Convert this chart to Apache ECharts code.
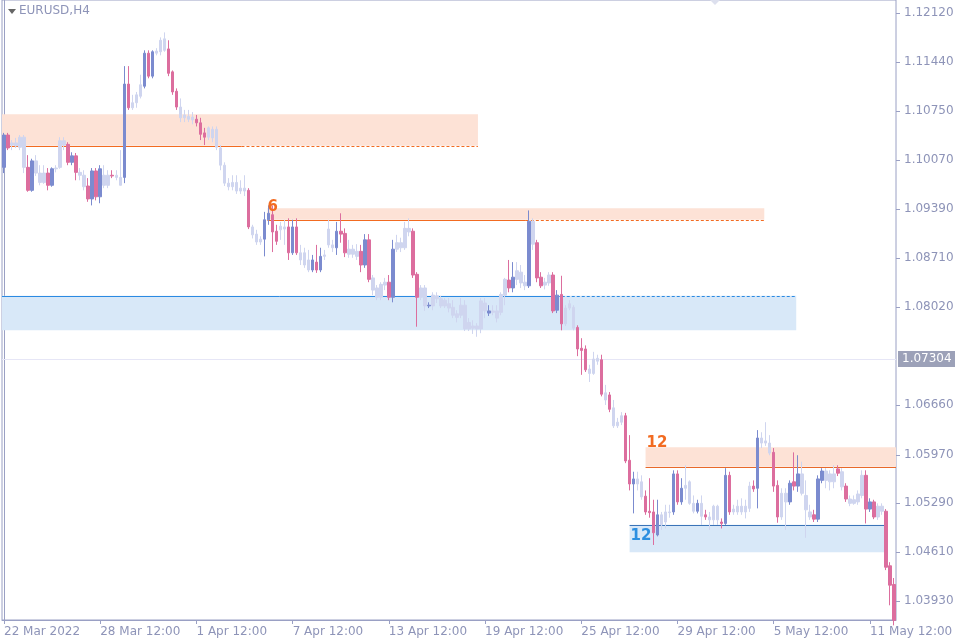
<!DOCTYPE html>
<html><head><meta charset="utf-8">
<script src="https://cdn.jsdelivr.net/npm/echarts@6/dist/echarts.min.js"></script>
<style>html,body{margin:0;padding:0;background:#fff}#c{width:960px;height:640px}</style>
</head><body><div id="c"></div>
<script>
// rows: [open, close, high, low, strong(1)/faint(0)]
const candles = [
[1.0997,1.1042,1.1045,1.0989,1],[1.1042,1.1024,1.1045,1.1021,1],[1.1028,1.1031,1.1035,1.1021,0],[1.1027,1.1031,1.1038,1.1024,0],
[1.1025,1.1039,1.1042,1.1021,0],[1.1039,1.0997,1.1042,1.0989,0],[1.0997,1.0965,1.1014,1.0963,1],[1.0965,1.1006,1.1009,1.0963,1],
[1.1006,1.0989,1.1014,1.0985,0],[1.0989,1.0976,1.1000,1.0972,0],[1.0976,1.0989,1.1000,1.0974,0],[1.0989,1.0972,1.0996,1.0965,1],
[1.0972,1.0995,1.0997,1.0970,1],[1.0995,1.0996,1.1000,1.0990,0],[1.0997,1.1034,1.1039,1.0995,0],[1.1034,1.1028,1.1039,1.1021,0],
[1.1029,1.1004,1.1032,1.1000,1],[1.1004,1.1013,1.1018,1.1000,1],[1.1013,1.0990,1.1017,1.0979,1],[1.0990,1.0986,1.0996,1.0979,0],
[1.0986,1.0970,1.0993,1.0965,0],[1.0971,1.0953,1.0982,1.0949,1],[1.0953,1.0992,1.0996,1.0944,1],[1.0992,1.0956,1.0996,1.0951,1],
[1.0956,1.0995,1.1000,1.0947,1],[1.0986,1.0972,1.1000,1.0968,0],[1.0972,1.0986,1.0993,1.0968,0],[1.0986,1.0985,1.0993,1.0982,1],
[1.0983,1.0986,1.0993,1.0979,0],[1.0972,1.0983,1.1021,1.0972,0],[1.0983,1.1113,1.1138,1.0975,1],[1.1113,1.1080,1.1138,1.1077,1],
[1.1080,1.1087,1.1098,1.1077,0],[1.1087,1.1098,1.1102,1.1080,0],[1.1096,1.1112,1.1126,1.1093,0],[1.1110,1.1156,1.1160,1.1107,1],
[1.1156,1.1124,1.1160,1.1121,1],[1.1124,1.1158,1.1160,1.1121,1],[1.1156,1.1159,1.1163,1.1153,0],[1.1158,1.1174,1.1178,1.1153,0],
[1.1160,1.1176,1.1185,1.1158,0],[1.1162,1.1128,1.1174,1.1124,1],[1.1130,1.1102,1.1132,1.1098,1],[1.1103,1.1081,1.1107,1.1077,1],
[1.1081,1.1066,1.1093,1.1060,0],[1.1070,1.1066,1.1077,1.1060,0],[1.1068,1.1064,1.1077,1.1060,0],[1.1067,1.1063,1.1074,1.1057,0],
[1.1064,1.1059,1.1070,1.1054,1],[1.1059,1.1043,1.1066,1.1035,1],[1.1045,1.1039,1.1052,1.1028,1],[1.1039,1.1052,1.1054,1.1035,0],
[1.1038,1.1050,1.1054,1.1032,0],[1.1050,1.1025,1.1054,1.1021,0],[1.1024,1.1000,1.1028,1.0993,0],[1.1000,1.0975,1.1004,1.0971,0],
[1.0975,1.0970,1.0982,1.0965,0],[1.0970,1.0976,1.0986,1.0965,0],[1.0976,1.0964,1.0986,1.0960,0],[1.0964,1.0968,1.0979,1.0960,0],
[1.0968,1.0964,1.0986,1.0957,0],[1.0965,1.0914,1.0968,1.0911,1],[1.0914,1.0903,1.0917,1.0898,0],[1.0904,1.0893,1.0910,1.0889,0],
[1.0897,1.0893,1.0901,1.0889,0],[1.0897,1.0924,1.0935,1.0873,1],[1.0924,1.0933,1.0944,1.0917,1],[1.0931,1.0907,1.0944,1.0879,1],
[1.0908,1.0894,1.0917,1.0889,1],[1.0910,1.0915,1.0921,1.0896,0],[1.0914,1.0911,1.0924,1.0889,0],[1.0914,1.0878,1.0926,1.0868,1],
[1.0878,1.0914,1.0924,1.0875,1],[1.0914,1.0878,1.0926,1.0875,1],[1.0878,1.0868,1.0889,1.0861,0],[1.0878,1.0861,1.0885,1.0857,0],
[1.0868,1.0854,1.0882,1.0851,0],[1.0854,1.0868,1.0875,1.0851,1],[1.0865,1.0854,1.0889,1.0850,1],[1.0854,1.0873,1.0885,1.0851,1],
[1.0873,1.0875,1.0882,1.0868,0],[1.0889,1.0911,1.0924,1.0885,0],[1.0889,1.0885,1.0896,1.0879,0],[1.0885,1.0908,1.0921,1.0875,1],
[1.0908,1.0904,1.0933,1.0892,1],[1.0905,1.0878,1.0912,1.0872,1],[1.0883,1.0876,1.0896,1.0871,0],[1.0883,1.0876,1.0889,1.0871,0],
[1.0880,1.0873,1.0890,1.0868,0],[1.0880,1.0861,1.0889,1.0851,1],[1.0861,1.0896,1.0904,1.0857,1],[1.0896,1.0841,1.0904,1.0837,1],
[1.0843,1.0826,1.0847,1.0819,0],[1.0829,1.0816,1.0833,1.0812,0],[1.0816,1.0834,1.0837,1.0812,0],[1.0833,1.0837,1.0843,1.0826,0],
[1.0837,1.0816,1.0847,1.0812,1],[1.0816,1.0883,1.0896,1.0809,1],[1.0883,1.0892,1.0903,1.0879,0],[1.0885,1.0892,1.0899,1.0879,0],
[1.0885,1.0912,1.0921,1.0882,0],[1.0907,1.0912,1.0926,1.0901,0],[1.0908,1.0847,1.0912,1.0843,1],[1.0848,1.0816,1.0851,1.0775,1],
[1.0816,1.0829,1.0833,1.0812,0],[1.0829,1.0804,1.0833,1.0797,0],[1.0804,1.0805,1.0809,1.0801,1],[1.0804,1.0819,1.0823,1.0798,0],
[1.0818,1.0814,1.0823,1.0808,0],[1.0814,1.0804,1.0818,1.0801,0],[1.0812,1.0804,1.0815,1.0801,0],[1.0807,1.0801,1.0815,1.0795,0],
[1.0802,1.0791,1.0812,1.0787,0],[1.0793,1.0788,1.0798,1.0781,0],[1.0791,1.0805,1.0815,1.0787,0],[1.0805,1.0772,1.0812,1.0769,0],
[1.0781,1.0772,1.0787,1.0769,0],[1.0773,1.0776,1.0784,1.0765,0],[1.0776,1.0772,1.0780,1.0761,0],[1.0772,1.0811,1.0815,1.0766,0],
[1.0808,1.0797,1.0815,1.0787,0],[1.0794,1.0797,1.0805,1.0790,1],[1.0797,1.0795,1.0805,1.0791,0],[1.0797,1.0787,1.0805,1.0781,0],
[1.0795,1.0820,1.0823,1.0791,0],[1.0819,1.0841,1.0843,1.0805,0],[1.0840,1.0829,1.0868,1.0823,1],[1.0829,1.0844,1.0865,1.0823,1],
[1.0841,1.0853,1.0865,1.0833,0],[1.0851,1.0836,1.0861,1.0829,0],[1.0837,1.0832,1.0847,1.0826,0],[1.0832,1.0922,1.0937,1.0829,1],
[1.0922,1.0890,1.0926,1.0882,0],[1.0892,1.0843,1.0896,1.0837,1],[1.0844,1.0832,1.0851,1.0829,1],[1.0837,1.0833,1.0843,1.0827,0],
[1.0836,1.0847,1.0851,1.0832,0],[1.0847,1.0797,1.0851,1.0794,1],[1.0798,1.0819,1.0826,1.0794,1],[1.0820,1.0779,1.0846,1.0770,1],
[1.0779,1.0801,1.0805,1.0776,0],[1.0801,1.0807,1.0812,1.0798,0],[1.0802,1.0773,1.0805,1.0770,0],[1.0774,1.0744,1.0777,1.0734,1],
[1.0745,1.0742,1.0759,1.0708,1],[1.0744,1.0715,1.0749,1.0712,1],[1.0716,1.0710,1.0722,1.0698,0],[1.0710,1.0730,1.0740,1.0708,0],
[1.0727,1.0731,1.0736,1.0722,0],[1.0729,1.0681,1.0736,1.0678,1],[1.0683,1.0673,1.0694,1.0666,0],[1.0680,1.0660,1.0684,1.0656,1],
[1.0662,1.0637,1.0673,1.0634,0],[1.0637,1.0642,1.0648,1.0634,0],[1.0642,1.0651,1.0656,1.0638,0],[1.0651,1.0588,1.0655,1.0585,1],
[1.0589,1.0556,1.0624,1.0547,1],[1.0556,1.0563,1.0573,1.0515,1],[1.0556,1.0563,1.0573,1.0547,0],[1.0559,1.0538,1.0568,1.0534,0],
[1.0539,1.0517,1.0547,1.0513,1],[1.0518,1.0516,1.0564,1.0509,1],[1.0517,1.0488,1.0534,1.0471,1],[1.0485,1.0513,1.0534,1.0483,1],
[1.0499,1.0513,1.0517,1.0492,0],[1.0503,1.0517,1.0527,1.0494,0],[1.0516,1.0517,1.0527,1.0509,0],[1.0517,1.0570,1.0575,1.0513,1],
[1.0570,1.0531,1.0575,1.0527,1],[1.0531,1.0550,1.0564,1.0527,1],[1.0550,1.0554,1.0582,1.0534,0],[1.0529,1.0559,1.0561,1.0527,0],
[1.0529,1.0518,1.0540,1.0515,0],[1.0518,1.0529,1.0534,1.0515,1],[1.0529,1.0511,1.0540,1.0499,0],[1.0513,1.0510,1.0520,1.0506,1],
[1.0510,1.0506,1.0517,1.0492,0],[1.0506,1.0525,1.0527,1.0499,0],[1.0525,1.0506,1.0527,1.0499,0],[1.0503,1.0501,1.0508,1.0494,1],
[1.0501,1.0568,1.0578,1.0499,1],[1.0568,1.0517,1.0573,1.0513,1],[1.0517,1.0521,1.0527,1.0513,0],[1.0517,1.0525,1.0534,1.0513,0],
[1.0525,1.0517,1.0536,1.0513,0],[1.0517,1.0525,1.0534,1.0508,0],[1.0522,1.0553,1.0559,1.0517,0],[1.0553,1.0549,1.0561,1.0545,1],
[1.0550,1.0620,1.0631,1.0522,1],[1.0620,1.0613,1.0628,1.0606,0],[1.0616,1.0613,1.0642,1.0609,0],[1.0613,1.0599,1.0624,1.0596,0],
[1.0600,1.0553,1.0606,1.0545,1],[1.0554,1.0510,1.0561,1.0502,1],[1.0510,1.0543,1.0550,1.0506,0],[1.0543,1.0531,1.0550,1.0492,0],
[1.0531,1.0557,1.0561,1.0527,1],[1.0559,1.0553,1.0600,1.0547,1],[1.0553,1.0570,1.0596,1.0545,1],[1.0543,1.0570,1.0587,1.0540,0],
[1.0540,1.0520,1.0561,1.0481,0],[1.0517,1.0510,1.0527,1.0506,0],[1.0513,1.0507,1.0520,1.0503,1],[1.0507,1.0563,1.0568,1.0503,1],
[1.0561,1.0574,1.0578,1.0557,1],[1.0574,1.0561,1.0578,1.0550,0],[1.0559,1.0570,1.0575,1.0547,0],[1.0570,1.0559,1.0582,1.0550,0],
[1.0577,1.0571,1.0582,1.0567,1],[1.0573,1.0552,1.0578,1.0547,0],[1.0553,1.0535,1.0557,1.0531,1],[1.0535,1.0529,1.0540,1.0525,0],
[1.0534,1.0529,1.0540,1.0527,0],[1.0531,1.0542,1.0547,1.0527,0],[1.0540,1.0568,1.0575,1.0536,0],[1.0568,1.0521,1.0575,1.0501,1],
[1.0521,1.0531,1.0536,1.0517,1],[1.0531,1.0510,1.0534,1.0507,1],[1.0510,1.0525,1.0529,1.0506,0],[1.0525,1.0518,1.0529,1.0513,0],
[1.0518,1.0440,1.0521,1.0436,1],[1.0442,1.0415,1.0447,1.0387,1],[1.0416,1.0366,1.0425,1.0359,1]
];
const tickIdx = [0,24,48,72,96,120,144,168,192,216];
const tickLabels = ['22 Mar 2022','28 Mar 12:00','1 Apr 12:00','7 Apr 12:00','13 Apr 12:00','19 Apr 12:00','25 Apr 12:00','29 Apr 12:00','5 May 12:00','11 May 12:00'];
const priceTicks = [1.03930,1.04610,1.05290,1.05970,1.06660,1.08020,1.08710,1.09390,1.10070,1.10750,1.11440,1.12120];
const currentPrice = 1.07304;
// zones: [fromIdx, toIdx, low, high, kind]
const zones = [
 [-0.5,118.75,1.1027,1.1071,'o'],
 [66,190.5,1.0924,1.0940,'o'],
 [-0.5,198.5,1.0770,1.0818,'b'],
 [160.75,223.5,1.0580,1.0607,'o'],
 [156.75,220.75,1.0461,1.0499,'b']
];
// levels: [fromIdx, toIdx, price, colour, dashed]
const levels = [
 [-0.5,59.5,1.1027,'#f26b21',0],[59.5,118.75,1.1027,'#f26b21',1],
 [66,130.75,1.0924,'#f26b21',0],[130.75,190.5,1.0924,'#f26b21',1],
 [-0.5,138.5,1.0818,'#2b8ae2',0],[138.5,198.5,1.0818,'#2b8ae2',1],
 [160.75,223.5,1.0580,'#e8692a',0],
 [156.75,220.75,1.0499,'#3b74b8',0],
 [-0.5,223.5,currentPrice,'#e6e6f6',0]
];
// zone labels: [idx, price, text, colour]
const zoneLabels = [[66,1.0941,'6','#f26b21'],[161,1.0613,'12','#f26b21'],[157,1.0483,'12','#2d8fe0']];

const cats = candles.map((_, i) => String(i));
const BLUE='#7b8bcf', PINK='#dc6e9e', FAINT='#cfd5ef';
const cdata = candles.map(r => {
  let col = r[4] ? (r[1] >= r[0] ? BLUE : PINK) : FAINT;
  return {value:[r[0], r[1], r[3], r[2]], itemStyle:{color:col,color0:col,borderColor:col,borderColor0:col,borderWidth:1}};
});
const chart = echarts.init(document.getElementById('c'));
const lbl = {color:'#8e94b8', fontSize:12, fontFamily:'DejaVu Sans'};
chart.setOption({
  animation:false,
  grid:{left:2,right:64,top:0,bottom:20,show:true,borderColor:'#9aa0c4',borderWidth:1},
  xAxis:[{type:'category',data:cats,boundaryGap:true,
    axisLine:{lineStyle:{color:'#9aa0c4'}},
    axisTick:{show:true,alignWithLabel:true,interval:(i)=>tickIdx.includes(i),length:4,lineStyle:{color:'#9aa0c4'}},
    axisLabel:Object.assign({interval:(i)=>tickIdx.includes(i),align:'left',margin:6,
      formatter:(v,i)=>{const k=tickIdx.indexOf(+v);return k>=0?tickLabels[k]:'';}},lbl),
    splitLine:{show:false}},
   {type:'value',min:-0.5,max:223.5,show:false}],
  yAxis:{type:'value',position:'right',min:1.03665,max:1.12301,scale:true,
    axisLine:{show:true,lineStyle:{color:'#9aa0c4'}},
    axisTick:{show:false},
    axisLabel:Object.assign({customValues:priceTicks,formatter:v=>v.toFixed(5),margin:8},lbl),
    splitLine:{show:false}},
  graphic:[
    {type:'polygon',shape:{points:[[8,9],[16,9],[12,14]]},style:{fill:'#666'}},
    {type:'text',left:19,top:5,style:{text:'EURUSD,H4',fill:'#8e94b8',font:'12px DejaVu Sans'}},
    {type:'polygon',shape:{points:[[710,0],[720,0],[715,5]]},style:{fill:'#dde0ee'}}
  ],
  series:[
    {type:'custom',xAxisIndex:1,data:zones.map(z=>[z[0],z[1],z[2],z[3]]),silent:true,z:1,
     renderItem:(p,api)=>{const a=api.coord([api.value(0),api.value(3)]),b=api.coord([api.value(1),api.value(2)]);
       return {type:'rect',shape:{x:a[0],y:a[1],width:b[0]-a[0],height:b[1]-a[1]},style:{fill:zones[p.dataIndex][4]==='o'?'#fde2d6':'#d8e8f8'}};}},
    {type:'custom',xAxisIndex:1,data:levels.map(l=>[l[0],l[1],l[2]]),silent:true,z:3,
     renderItem:(p,api)=>{const a=api.coord([api.value(0),api.value(2)]),b=api.coord([api.value(1),api.value(2)]);const L=levels[p.dataIndex];
       return {type:'line',shape:{x1:a[0],y1:Math.round(a[1])+0.5,x2:b[0],y2:Math.round(a[1])+0.5},style:{stroke:L[3],lineWidth:1,lineDash:L[4]?[3,2]:null}};}},
    {type:'custom',xAxisIndex:1,data:zoneLabels.map(l=>[l[0],l[1]]),silent:true,z:5,
     renderItem:(p,api)=>{const a=api.coord([api.value(0),api.value(1)]);const L=zoneLabels[p.dataIndex];
       return {type:'text',x:a[0],y:a[1],style:{text:L[2],fill:L[3],font:'bold 15px DejaVu Sans',verticalAlign:'middle',align:'left'}};}},
    {type:'custom',xAxisIndex:1,data:priceTicks.map(p=>[223.5,p]),silent:true,clip:false,z:6,
     renderItem:(p,api)=>{const a=api.coord([api.value(0),api.value(1)]);const y=Math.round(a[1])+0.5;
       return {type:'line',shape:{x1:a[0],y1:y,x2:a[0]+4,y2:y},style:{stroke:'#9aa0c4',lineWidth:1}};}},
    {type:'custom',xAxisIndex:1,data:[[223.5,currentPrice]],silent:true,clip:false,z:6,
     renderItem:(p,api)=>{const a=api.coord([api.value(0),api.value(1)]);
       return {type:'group',children:[
         {type:'rect',shape:{x:a[0]+2,y:Math.round(a[1])-8,width:57,height:16},style:{fill:'#9ca1b8'}},
         {type:'text',x:a[0]+6,y:Math.round(a[1]),style:{text:currentPrice.toFixed(5),fill:'#fff',font:'12px DejaVu Sans',verticalAlign:'middle'}}]};}},
    {type:'candlestick',data:cdata,barWidth:3,z:4}
  ]
});
</script></body></html>
